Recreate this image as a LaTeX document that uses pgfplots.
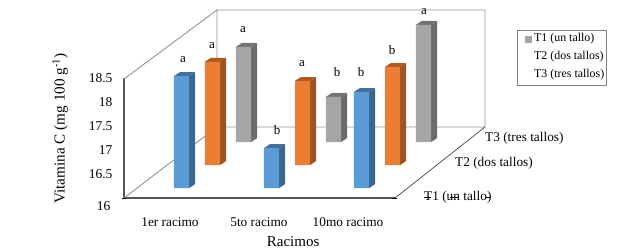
\documentclass[border=0pt]{standalone}
\usepackage{pgfplots}
\pgfplotsset{compat=1.18}
\usepackage{fontspec}
\setmainfont{Liberation Serif}
\definecolor{bF}{HTML}{5B9BD5}\definecolor{bS}{HTML}{3A6690}\definecolor{bT}{HTML}{41719C}
\definecolor{oF}{HTML}{ED7D31}\definecolor{oS}{HTML}{A0521F}\definecolor{oT}{HTML}{AE5A21}
\definecolor{gF}{HTML}{A5A5A5}\definecolor{gS}{HTML}{6B6B6B}\definecolor{gT}{HTML}{737373}
\definecolor{axD}{HTML}{555555}\definecolor{axL}{HTML}{939393}
% side and top faces of one bar: {x}{value}{side colour}{top colour}
\newcommand\faces[4]{%
 \pgfmathsetmacro\xa{#1+0.085}\pgfmathsetmacro\xb{#1+0.152}\pgfmathsetmacro\xc{#1-0.085}\pgfmathsetmacro\xd{#1-0.018}%
 \pgfmathsetmacro\vt{#2+0.0833}%
 \edef\tmp{\noexpand\addplot[fill=#3,draw=none] coordinates {(\xa,16)(\xb,16.0833)(\xb,\vt)(\xa,#2)} -- cycle;
 \noexpand\addplot[fill=#4,draw=none] coordinates {(\xc,#2)(\xa,#2)(\xb,\vt)(\xd,\vt)} -- cycle;}\tmp}
\pgfplotsset{ser/.style={hide axis,scale only axis,x=90pt,y=48pt,xmin=-1,xmax=3,ymin=16,ymax=18.9,anchor=south west}}
\newcommand\T[4]{\node[anchor=#3,inner sep=0pt,font=\fontsize{#4}{#4}\selectfont] at ({#1*1pt},{(250-#2)*1pt})}
\begin{document}
\begin{tikzpicture}
\path[use as bounding box] (0,0) rectangle (627pt,250pt);
% frame and value axis
\begin{axis}[at={(124pt,52pt)},anchor=south west,scale only axis,x=1pt,y=48pt,
 xmin=124,xmax=395,ymin=16,ymax=18.5,clip=false,
 axis x line=bottom,axis y line=left,axis line style={draw=axD,line width=1.3pt,-},
 xtick={170,259,348},xticklabels={1er racimo,5to racimo,10mo racimo},
 xticklabel style={anchor=center,yshift=-24pt,font=\fontsize{13.3}{13.3}\selectfont},
 ytick={16.5,17,17.5,18,18.5},yticklabels={16.5,17,17.5,18,18.5},
 yticklabel style={xshift=-8pt,font=\fontsize{13.5}{13.5}\selectfont},
 extra y ticks={16},extra y tick labels={16},
 extra y tick style={yticklabel style={yshift=-8pt},tick style={draw=black,line width=0.7pt},major tick length=4pt},
 major tick length=0pt,
 xlabel={Racimos},ylabel={Vitamina C (mg 100 g\textsuperscript{-1})},
 xlabel style={at={(axis description cs:0.624,-0.367)},anchor=center,font=\fontsize{15}{15}\selectfont},
 ylabel style={at={(axis description cs:-0.236,0.58)},anchor=center,font=\fontsize{15.2}{15.2}\selectfont}]
\addplot[axL,line width=0.9pt,forget plot] coordinates {(124,18.479)(217,19.917)(485,19.917)(485,17.479)(217,17.479)(217,19.917)};
\addplot[axL,line width=0.9pt,forget plot] coordinates {(124,16)(217,17.479)};
\addplot[axD,line width=0.8pt,forget plot] coordinates {(395,16)(485,17.479)};
\addplot[black,line width=0.8pt,forget plot] coordinates {(392,16)(397,16)};
\end{axis}
% T3
\begin{axis}[ser,at={(153.5pt,108pt)}]
\faces{0}{17.98}{gS}{gT}\faces{1}{16.94}{gS}{gT}\faces{2}{18.44}{gS}{gT}
\addplot[ybar,bar width=0.17,bar shift=0pt,fill=gF,draw=none] coordinates {(0,17.98)(1,16.94)(2,18.44)};
\end{axis}
% T2
\begin{axis}[ser,at={(122.5pt,85pt)}]
\faces{0}{18.15}{oS}{oT}\faces{1}{17.75}{oS}{oT}\faces{2}{18.04}{oS}{oT}
\addplot[ybar,bar width=0.17,bar shift=0pt,fill=oF,draw=none] coordinates {(0,18.15)(1,17.75)(2,18.04)};
\end{axis}
% T1
\begin{axis}[ser,at={(91.5pt,62pt)}]
\faces{0}{18.33}{bS}{bT}\faces{1}{16.83}{bS}{bT}\faces{2}{18.0}{bS}{bT}
\addplot[ybar,bar width=0.17,bar shift=0pt,fill=bF,draw=none] coordinates {(0,18.33)(1,16.83)(2,18.0)};
\end{axis}
% significance letters
\T{183}{60}{center}{13}{a};\T{212}{46}{center}{13}{a};\T{243}{30}{center}{13}{a};
\T{277}{130}{center}{13}{b};\T{302}{64}{center}{13}{a};\T{337}{72}{center}{13}{b};
\T{361}{72}{center}{13}{b};\T{392}{50}{center}{13}{b};\T{424}{12}{center}{13}{a};
% depth labels
\T{424}{197}{west}{13.3}{T1 (un tallo)};
\T{455}{163}{west}{13.3}{T2 (dos tallos)};
\T{485}{138}{west}{13.3}{T3 (tres tallos)};
\draw[black,line width=0.5pt] (424pt,53pt) -- (431pt,53pt) (450pt,53pt) -- (458pt,53pt) (485pt,53pt) -- (491pt,53pt);
% legend
\draw[draw=gray,line width=0.8pt] (517.5pt,220pt) rectangle (606.5pt,165pt);
\fill[gF] (525pt,214pt) rectangle (532pt,207.5pt);
\T{534}{39}{west}{11.9}{T1 (un tallo)};
\T{534}{57}{west}{11.9}{T2 (dos tallos)};
\T{534}{75}{west}{11.9}{T3 (tres tallos)};
\end{tikzpicture}
\end{document}
